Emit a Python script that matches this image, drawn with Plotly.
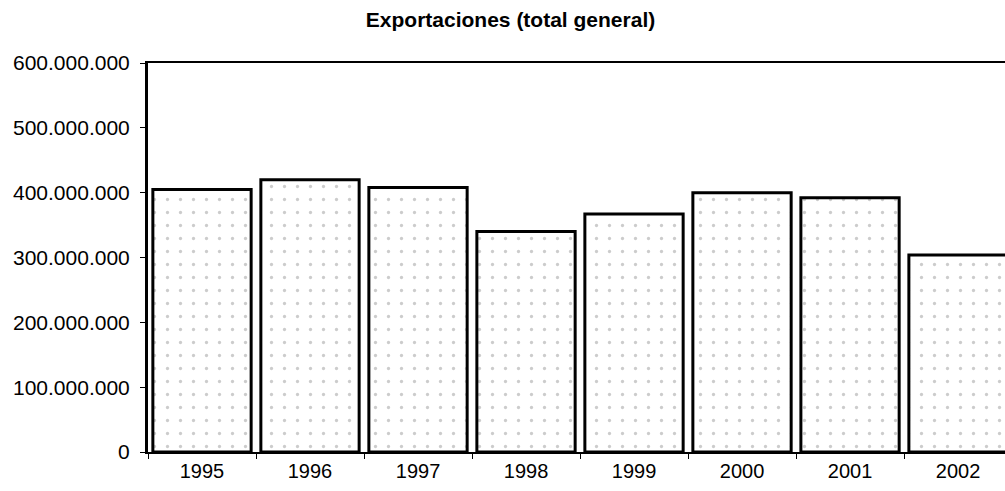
import plotly.graph_objects as go

years = ["1995", "1996", "1997", "1998", "1999", "2000", "2001", "2002"]
exports = [405_000_000, 420_000_000, 408_000_000, 340_000_000, 367_000_000, 400_000_000, 392_000_000, 304_000_000]
title_text = "Exportaciones (total general)"

fig = go.Figure(go.Bar(
    x=years, y=exports,
    marker=dict(color="white", line=dict(color="black", width=3),
                pattern=dict(shape=".", fgcolor="#9a9a9a", bgcolor="white", size=13, solidity=0.05)),
))

fig.update_layout(
    width=1005, height=491,
    margin=dict(l=148, r=0, t=63, b=39, autoexpand=False),
    paper_bgcolor="white", plot_bgcolor="white",
    separators=",.",
    bargap=0.09,
    showlegend=False,
    font=dict(family="Liberation Sans, Arial, sans-serif", color="black", size=21),
    title=dict(text="<b>" + title_text + "</b>", x=0.508, xanchor="center", y=0.96, yanchor="middle",
               font=dict(size=21)),
)
fig.update_xaxes(type="category", range=[-0.5, 7.435], showline=True, linecolor="black", linewidth=2,
                 mirror=True, ticks="outside", tickson="boundaries", ticklen=5, tickcolor="black",
                 showgrid=False, tickfont=dict(size=20))
fig.update_yaxes(range=[0, 600_000_000], dtick=100_000_000, tickformat=",d", showline=True,
                 linecolor="black", linewidth=3, ticks="outside", ticklen=5, tickcolor="black",
                 showgrid=False, zeroline=False, tickfont=dict(size=21), ticklabelstandoff=6)

fig.write_html("out.html", config={"displayModeBar": False},
               post_script="document.body.style.margin='0';document.body.style.overflow='hidden';")
